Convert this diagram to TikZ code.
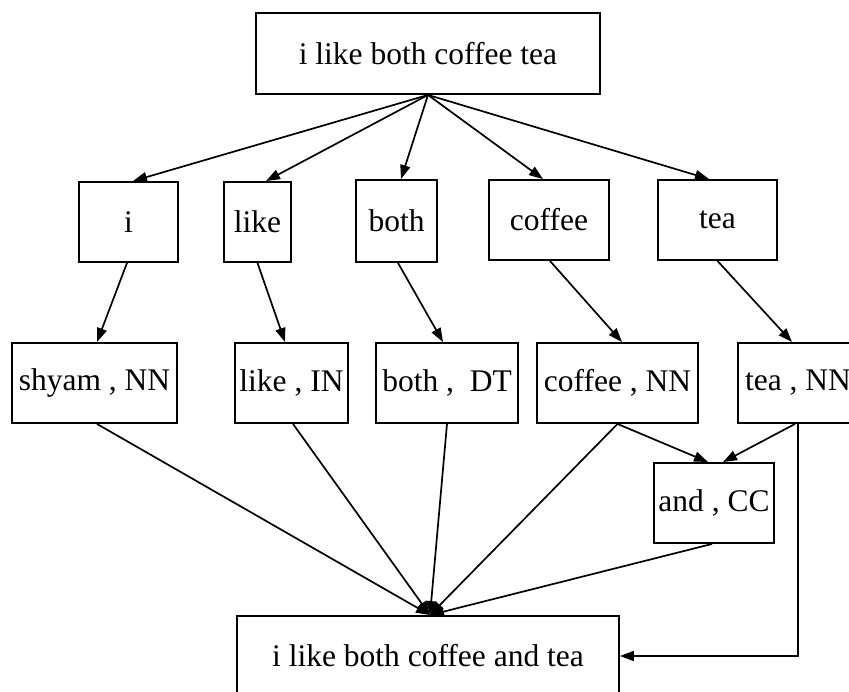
\documentclass[tikz,border=0pt]{standalone}
\usepackage{fontspec}
\setmainfont{Liberation Serif}
\usetikzlibrary{arrows.meta,calc}

\tikzset{
  box/.style={draw, line width=1.9pt, rectangle, inner sep=0pt,
              minimum height=80pt, align=center,
              font=\fontsize{31.5}{36}\selectfont},
  link/.style={line width=1.7pt, -{Triangle[length=14pt,width=10pt]}},
}

\begin{document}
\begin{tikzpicture}[x=1pt,y=-1pt]
  \useasboundingbox (0,0) rectangle (849,692);
  \clip (0,0) rectangle (849,692);
  \fill[white] (0,0) rectangle (849,692);

  % sentence
  \node[box, minimum width=344pt, minimum height=81pt] (top) at (428,53.5) {i like both coffee tea};

  % tokens
  \node[box, minimum width=99pt]  (i)      at (128.5,222) {i};
  \node[box, minimum width=67pt]  (like)   at (257.5,222) {like};
  \node[box, minimum width=81pt, minimum height=82pt] (both) at (396.5,221) {both};
  \node[box, minimum width=120pt] (coffee) at (549,220)   {coffee};
  \node[box, minimum width=119pt] (tea)    at (717.5,220) {tea};

  % tagged tokens
  \node[box, minimum width=165pt] (shyam)    at (94.5,383)  {shyam , NN};
  \node[box, minimum width=113pt] (likeIN)   at (291.5,383) {like , IN};
  \node[box, minimum width=142pt] (bothDT)   at (447,383)   {both ,\ \ DT};
  \node[box, minimum width=161pt] (coffeeNN) at (617.5,383) {coffee , NN};
  \node[box, minimum width=120pt] (teaNN)    at (798,383)   {tea , NN};

  % inserted conjunction
  \node[box, minimum width=120pt] (andCC) at (714,503) {and , CC};

  % result
  \node[box, minimum width=382pt] (final) at (428,656) {i like both coffee and tea};

  % sentence -> tokens
  \draw[link] (top.south) -- ($(i.north)+(4.5,0)$);
  \draw[link] (top.south) -- ($(like.north)+(8.5,0)$);
  \draw[link] (top.south) -- ($(both.north)+(4.5,0)$);
  \draw[link] (top.south) -- ($(coffee.north)+(-6,0)$);
  \draw[link] (top.south) -- ($(tea.north)+(-8.5,0)$);

  % tokens -> tags
  \draw[link] ($(i.south)+(-1.5,0)$) -- ($(shyam.north)+(2.5,0)$);
  \draw[link] (like.south) -- ($(likeIN.north)+(-6.5,0)$);
  \draw[link] ($(both.south)+(1.5,0)$) -- ($(bothDT.north)+(-4,0)$);
  \draw[link] ($(coffee.south)+(1,0)$) -- ($(coffeeNN.north)+(4.5,0)$);
  \draw[link] (tea.south) -- ($(teaNN.north)+(-6,0)$);

  % nouns -> conjunction
  \draw[link] (coffeeNN.south) -- ($(andCC.north)+(-6,0)$);
  \draw[link] ($(teaNN.south)+(-3,0)$) -- ($(andCC.north)+(9,0)$);

  % tags -> result
  \draw[link] ($(shyam.south)+(2.5,0)$) -- ($(final.north)+(2,0)$);
  \draw[link] ($(likeIN.south)+(1.5,0)$) -- ($(final.north)+(2,0)$);
  \draw[link] (bothDT.south) -- ($(final.north)+(2,0)$);
  \draw[link] (coffeeNN.south) -- ($(final.north)+(2,0)$);
  \draw[link] ($(andCC.south)+(-2,0)$) -- ($(final.north)+(2,0)$);
  \draw[link] (teaNN.south) |- (final.east);
\end{tikzpicture}
\end{document}
